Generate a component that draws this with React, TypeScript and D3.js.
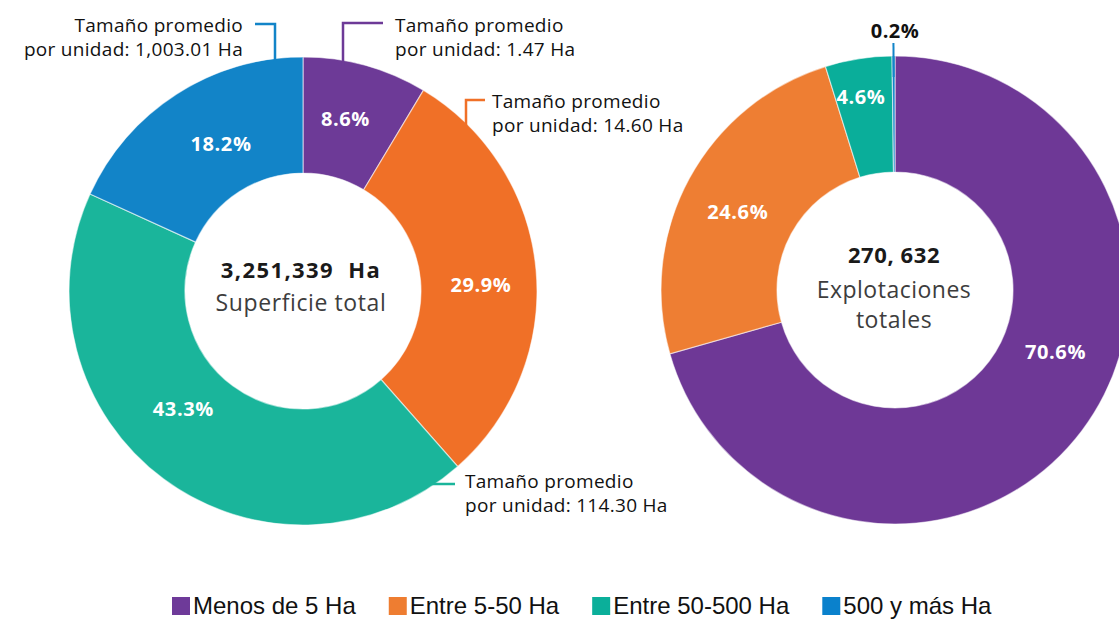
import React, { useEffect, useRef } from "react";
import * as d3 from "d3";

const categories = ["Menos de 5 Ha", "Entre 5-50 Ha", "Entre 50-500 Ha", "500 y más Ha"];
const legendColors = ["#6E3A99", "#EE7D31", "#0BAF9A", "#0A81CC"];
const superficieColors = ["#6D3A97", "#F07027", "#1AB59B", "#1284C8"];
const explotacionesColors = ["#6E3896", "#EE7E33", "#0AAE9A", "#1284C8"];
const superficieShare = [8.6, 29.9, 43.3, 18.2];
const explotacionesShare = [70.6, 24.6, 4.6, 0.2];
const tamanoPromedio = ["1.47", "14.60", "114.30", "1,003.01"];
const superficieTotal = ["3,251,339  Ha", "Superficie total"];
const explotacionesTotal = ["270, 632", "Explotaciones", "totales"];

const FONT = "'Open Sans', Lato, sans-serif";

export default function App() {
  const ref = useRef<SVGSVGElement>(null);

  useEffect(() => {
    const svg = d3.select(ref.current);
    svg.selectAll("*").remove();

    const outerR = 234;
    const innerR = 118;
    const pie = d3.pie<number>().sort(null).value(d => d);
    const arc = d3.arc<d3.PieArcDatum<number>>().innerRadius(innerR).outerRadius(outerR);

    // label placement: [fraction along slice, radius]
    const drawDonut = (cx: number, cy: number, values: number[], palette: string[], labelPos: (number[] | null)[]) => {
      const g = svg.append("g").attr("transform", `translate(${cx},${cy})`);
      const arcs = pie(values);
      g.selectAll("path")
        .data(arcs)
        .join("path")
        .attr("d", arc as any)
        .attr("fill", (d, i) => palette[i])
        .attr("stroke", "rgba(255,255,255,0.55)")
        .attr("stroke-width", 1.2);

      arcs.forEach((a, i) => {
        const p = labelPos[i];
        if (!p) return;
        const ang = a.startAngle + (a.endAngle - a.startAngle) * p[0];
        g.append("text")
          .attr("x", p[1] * Math.sin(ang))
          .attr("y", -p[1] * Math.cos(ang))
          .attr("text-anchor", "middle")
          .attr("dominant-baseline", "central")
          .attr("fill", "#fff")
          .style("font-family", FONT)
          .style("font-weight", "bold")
          .style("font-size", "20px")
          .style("letter-spacing", "0.6px")
          .text(`${values[i]}%`);
      });
      return { g, arcs };
    };

    // left donut: superficie
    const left = drawDonut(303, 291, superficieShare, superficieColors, [
      [0.445, 178], [0.53, 178], [0.557, 168], [0.557, 169]
    ]);

    // callouts (relative to donut center)
    const callouts = [
      { pts: [[40, -225], [40, -268], [80, -268]], tx: 92, ty: -259, anchor: "start" },
      { pts: [[163, -161], [163, -191], [182, -191]], tx: 189, ty: -183, anchor: "start" },
      { pts: [[128, 193], [152, 193]], tx: 162, ty: 197, anchor: "start" },
      { pts: [[-28, -229], [-28, -267], [-48, -267]], tx: -60, ty: -259, anchor: "end" }
    ];
    callouts.forEach((c, i) => {
      left.g.append("path")
        .attr("d", d3.line()(c.pts as [number, number][]))
        .attr("fill", "none")
        .attr("stroke", superficieColors[i])
        .attr("stroke-width", 2.5);
      const t = left.g.append("text")
        .attr("text-anchor", c.anchor)
        .attr("fill", "#111")
        .style("font-family", FONT)
        .style("font-size", "19px")
        .style("letter-spacing", "0.3px");
      t.append("tspan").attr("x", c.tx).attr("y", c.ty).text("Tamaño promedio");
      t.append("tspan").attr("x", c.tx).attr("y", c.ty + 24).text(`por unidad: ${tamanoPromedio[i]} Ha`);
    });

    left.g.append("text")
      .attr("x", -2).attr("y", -13)
      .attr("text-anchor", "middle")
      .attr("fill", "#1a1a1a")
      .style("font-family", FONT)
      .style("font-weight", "bold")
      .style("font-size", "22px")
      .style("letter-spacing", "1.4px")
      .style("white-space", "pre")
      .text(superficieTotal[0]);
    left.g.append("text")
      .attr("x", -2).attr("y", 20)
      .attr("text-anchor", "middle")
      .attr("fill", "#3d3d3d")
      .style("font-family", FONT)
      .style("font-size", "23px")
      .style("letter-spacing", "0.6px")
      .text(superficieTotal[1]);

    // right donut: explotaciones
    const right = drawDonut(895, 290, explotacionesShare, explotacionesColors, [
      [0.437, 172], [0.48, 176], [0.44, 196], null
    ]);

    const tiny = right.arcs[3];
    const midAng = (tiny.startAngle + tiny.endAngle) / 2;
    right.g.append("line")
      .attr("x1", 213 * Math.sin(midAng)).attr("y1", -213 * Math.cos(midAng))
      .attr("x2", 247 * Math.sin(midAng)).attr("y2", -247 * Math.cos(midAng))
      .attr("stroke", explotacionesColors[3])
      .attr("stroke-width", 2);
    right.g.append("text")
      .attr("x", 0).attr("y", -252)
      .attr("text-anchor", "middle")
      .attr("fill", "#111")
      .style("font-family", FONT)
      .style("font-weight", "bold")
      .style("font-size", "20px")
      .style("letter-spacing", "0.5px")
      .text(`${explotacionesShare[3]}%`);

    right.g.append("text")
      .attr("x", -1).attr("y", -27)
      .attr("text-anchor", "middle")
      .attr("fill", "#1a1a1a")
      .style("font-family", FONT)
      .style("font-weight", "bold")
      .style("font-size", "22px")
      .style("letter-spacing", "0.6px")
      .style("white-space", "pre")
      .text(explotacionesTotal[0]);
    [explotacionesTotal[1], explotacionesTotal[2]].forEach((s, i) => {
      right.g.append("text")
        .attr("x", -1).attr("y", 8 + i * 30)
        .attr("text-anchor", "middle")
        .attr("fill", "#3d3d3d")
        .style("font-family", FONT)
        .style("font-size", "23px")
        .style("letter-spacing", "0.5px")
        .text(s);
    });

    // legend
    const legend = svg.append("g").attr("transform", "translate(172, 597)");
    let x = 0;
    categories.forEach((c, i) => {
      const item = legend.append("g").attr("transform", `translate(${x},0)`);
      item.append("rect")
        .attr("width", 18).attr("height", 18)
        .attr("fill", legendColors[i]);
      const t = item.append("text")
        .attr("x", 21).attr("y", 17)
        .attr("fill", "#111")
        .style("font-family", "'Liberation Sans', Arial, sans-serif")
        .style("font-size", "24px")
        .text(c);
      const w = (t.node() as SVGTextElement).getComputedTextLength();
      x += 21 + w + 33;
    });
  }, []);

  return (
    <svg
      ref={ref}
      width={1119}
      height={619}
      style={{ position: "absolute", left: 0, top: 0, background: "#fff" }}
    />
  );
}
